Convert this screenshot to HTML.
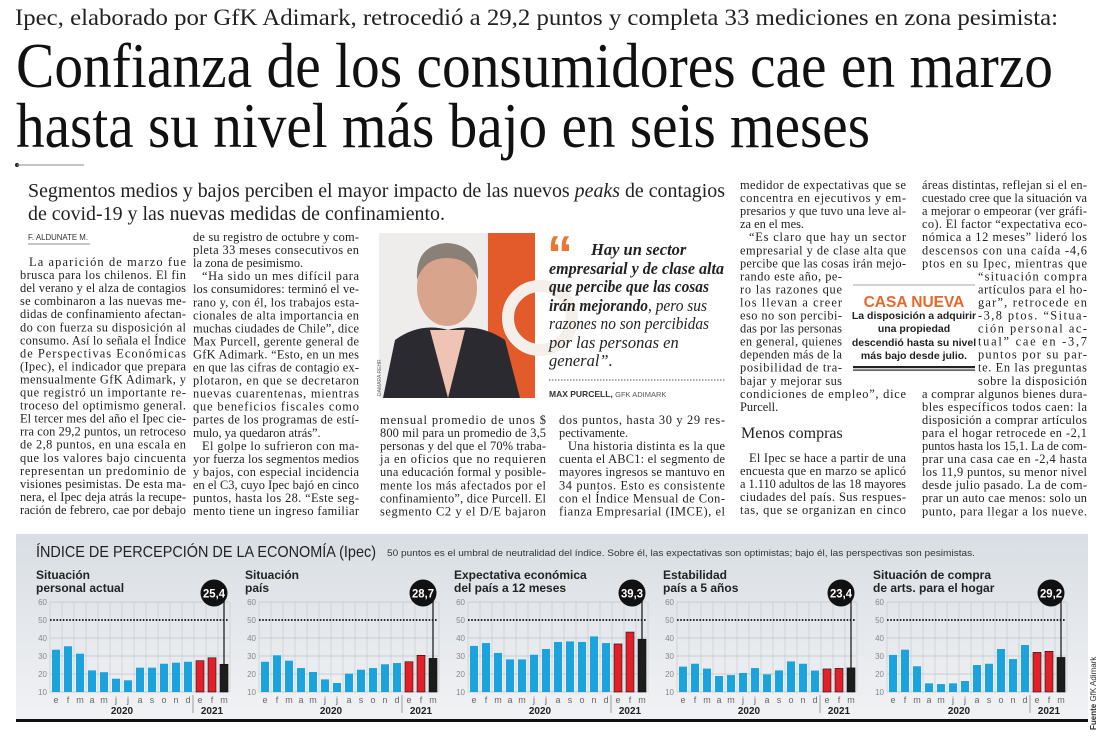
<!DOCTYPE html>
<html><head><meta charset="utf-8">
<style>
html,body{margin:0;padding:0;background:#fff;}
svg{display:block;}
.body{font-family:"Liberation Serif",serif;font-size:12.4px;fill:#222;}
.sans{font-family:"Liberation Sans",sans-serif;}
</style></head>
<body>
<svg id="page" width="1100" height="748" viewBox="0 0 1100 748" xmlns="http://www.w3.org/2000/svg">
  <rect x="0" y="0" width="1100" height="748" fill="#fff"/>
  <text x="15" y="25" font-family="Liberation Serif, serif" font-size="23" fill="#222" textLength="1043" lengthAdjust="spacingAndGlyphs">Ipec, elaborado por GfK Adimark, retrocedió a 29,2 puntos y completa 33 mediciones en zona pesimista:</text>
  <text x="16" y="87" font-family="Liberation Serif, serif" font-size="64" fill="#111" textLength="1037" lengthAdjust="spacingAndGlyphs">Confianza de los consumidores cae en marzo</text>
  <text x="16" y="147" font-family="Liberation Serif, serif" font-size="64" fill="#111" textLength="854" lengthAdjust="spacingAndGlyphs">hasta su nivel más bajo en seis meses</text>
  <circle cx="17" cy="165" r="2" fill="#222"/>
  <line x1="17" y1="165" x2="84" y2="165" stroke="#888" stroke-width="1"/>
  <text x="28" y="197" font-family="Liberation Serif, serif" font-size="19.5" fill="#222" textLength="697" lengthAdjust="spacingAndGlyphs">Segmentos medios y bajos perciben el mayor impacto de las nuevos <tspan font-style="italic">peaks</tspan> de contagios</text>
  <text x="28" y="220" font-family="Liberation Serif, serif" font-size="19.5" fill="#222" textLength="417" lengthAdjust="spacingAndGlyphs">de covid-19 y las nuevas medidas de confinamiento.</text>
  <text x="28" y="240" class="sans" font-size="8" fill="#333" textLength="60" lengthAdjust="spacingAndGlyphs">F. ALDUNATE M.</text>
  <line x1="28" y1="244" x2="90" y2="244" stroke="#666" stroke-width="0.7"/>

  <g id="photo">
    <rect x="379" y="233" width="156" height="165" fill="#efedeb"/>
    <rect x="488" y="233" width="47" height="165" fill="#e35a2b"/>
    <circle cx="540" cy="318" r="32" fill="none" stroke="#f4efe9" stroke-width="12"/>
    <path d="M383 398 L395 340 Q420 322 448 330 Q478 322 505 340 L520 398 Z" fill="#2a2a30"/>
    <path d="M430 330 L448 398 L465 330 Z" fill="#efc4b4"/>
    <ellipse cx="447" cy="288" rx="30" ry="38" fill="#d8a48c"/>
    <path d="M417 280 Q415 245 447 243 Q480 245 478 280 Q470 258 447 258 Q424 258 417 280 Z" fill="#8a8078"/>
    <text x="381" y="396" transform="rotate(-90 381 396)" class="sans" font-size="5" fill="#666">DAMARA REHR</text>
  </g>

  <g>
    <text x="547" y="272" font-family="Liberation Sans, sans-serif" font-weight="bold" font-size="52" fill="#e8772f">“</text>
    <g font-family="Liberation Serif, serif" font-size="16.5" font-style="italic" fill="#222">
      <text x="591" y="255" font-weight="bold">Hay un sector</text>
      <text x="549" y="274" font-weight="bold" textLength="175" lengthAdjust="spacingAndGlyphs">empresarial y de clase alta</text>
      <text x="549" y="292" font-weight="bold" textLength="160" lengthAdjust="spacingAndGlyphs">que percibe que las cosas</text>
      <text x="549" y="311" textLength="158" lengthAdjust="spacingAndGlyphs"><tspan font-weight="bold">irán mejorando</tspan>, pero sus</text>
      <text x="549" y="329" textLength="160" lengthAdjust="spacingAndGlyphs">razones no son percibidas</text>
      <text x="549" y="348">por las personas en</text>
      <text x="549" y="366">general”.</text>
    </g>
    <line x1="549" y1="380" x2="725" y2="380" stroke="#555" stroke-width="1" stroke-dasharray="1.5 1.5"/>
    <text x="549" y="397" class="sans" font-size="8.5" font-weight="bold" fill="#333">MAX PURCELL, <tspan font-weight="normal" font-size="7.5" fill="#555">GFK ADIMARK</tspan></text>
  </g>

  <g>
    <line x1="853" y1="285" x2="975" y2="285" stroke="#888" stroke-width="0.8"/>
    <text x="914" y="307" text-anchor="middle" class="sans" font-weight="bold" font-size="15.5" fill="#e8682a">CASA NUEVA</text>
    <g class="sans" font-weight="bold" font-size="10.5" fill="#222" text-anchor="middle">
      <text x="914" y="319">La disposición a adquirir</text>
      <text x="914" y="332">una propiedad</text>
      <text x="914" y="346">descendió hasta su nivel</text>
      <text x="914" y="359">más bajo desde julio.</text>
    </g>
    <rect x="853" y="366" width="122" height="2.2" fill="#222"/>
    <rect x="853" y="369.5" width="122" height="1.2" fill="#222"/>
  </g>

  <text x="741" y="438" font-family="Liberation Serif, serif" font-size="16" fill="#222">Menos compras</text>

  <g id="cols" class="body"></g>

  <g>
    <defs>
      <linearGradient id="pg" x1="0" y1="0" x2="0" y2="1">
        <stop offset="0" stop-color="#d9dee4"/>
        <stop offset="1" stop-color="#f1f2f4"/>
      </linearGradient>
    </defs>
    <rect x="16" y="534" width="1072" height="186" fill="url(#pg)"/>
    <rect x="16" y="719" width="1072" height="3" fill="#111"/>
    <text x="36" y="557" class="sans" font-size="16" fill="#222" textLength="340" lengthAdjust="spacingAndGlyphs">ÍNDICE DE PERCEPCIÓN DE LA ECONOMÍA (Ipec)</text>
    <text x="387" y="556" class="sans" font-size="9.5" fill="#333" textLength="588" lengthAdjust="spacingAndGlyphs">50 puntos es el umbral de neutralidad del índice. Sobre él, las expectativas son optimistas; bajo él, las perspectivas son pesimistas.</text>
    <text x="1096" y="730" transform="rotate(-90 1096 730)" class="sans" font-size="8" fill="#333"><tspan font-weight="bold">Fuente</tspan> GfK Adimark</text>
    <g id="charts"></g>
  </g>
</svg>
<script>
// ---- chart data ----
const months = ['e','f','m','a','m','j','j','a','s','o','n','d','e','f','m'];
const chartTitles1 = ['Situación','Situación','Expectativa económica','Estabilidad','Situación de compra'];
const chartTitles2 = ['personal actual','país','del país a 12 meses','país a 5 años','de arts. para el hogar'];
const serieSituacionPersonal = [33.5,35.4,31.3,22,21,17.4,16.5,23.5,23.5,25.7,26.3,26.8,27.4,29,25.4];
const serieSituacionPais = [26.8,30.4,27.4,23.3,21.1,17,15,20.2,22.4,23.3,25.4,26.1,26.8,30.4,28.7];
const serieExpectativa = [35.6,37.2,31.7,28.1,28.1,30.7,33.9,37.8,38.1,37.8,40.9,37.2,36.7,43.3,39.3];
const serieEstabilidad = [24.1,25.7,23,18.9,19.4,20.6,23.3,19.8,22,27,25.7,21.9,22.8,23.1,23.4];
const serieCompra = [30.6,33.5,24.3,14.8,14.4,14.8,16.1,25,25.7,33.9,28.3,36.1,32,32.6,29.2];
const latestLabels = ['25,4','28,7','39,3','23,4','29,2'];
const yTicks = [10,20,30,40,50,60];
const threshold = 50;
const yearLabels = ['2020','2021'];

const NS='http://www.w3.org/2000/svg';
function mk(tag, attrs, parent){const e=document.createElementNS(NS,tag);for(const k in attrs)e.setAttribute(k,attrs[k]);parent.appendChild(e);return e;}

const series=[serieSituacionPersonal,serieSituacionPais,serieExpectativa,serieEstabilidad,serieCompra];
const chartsG=document.getElementById('charts');
const chartX=[0,209,418,627,837];
const yMin=10,yMax=60,plotBottom=692,plotTop=602;
function yScale(v){return plotBottom-(v-yMin)/(yMax-yMin)*(plotBottom-plotTop);}
series.forEach((data,ci)=>{
  const ox=chartX[ci];
  const g=mk('g',{},chartsG);
  
  
  const left=50+ox, right=229+ox, pitch=12;
  function xScale(i){return left+6+i*pitch;}
  const t1=mk('text',{x:36+ox,y:579,'class':'sans','font-size':12,'font-weight':'bold',fill:'#222'},g);
  t1.textContent=chartTitles1[ci];
  
  
  const t2=mk('text',{x:36+ox,y:592,'class':'sans','font-size':12,'font-weight':'bold',fill:'#222'},g);
  t2.textContent=chartTitles2[ci];
  
  
  for(let i=0;i<=data.length;i++){
    const x=left+i*pitch;
    const vl=mk('line',{x1:x,y1:plotTop,x2:x,y2:plotBottom,stroke:'#c8ccd1','stroke-width':0.7},g);
    
    
  }
  yTicks.forEach(v=>{
    const y=yScale(v);
    if(v!==threshold){
      const hl=mk('line',{x1:left,y1:y,x2:right,y2:y,stroke:'#bfc3c8','stroke-width':0.8},g);
      
      
    }
    const tl=mk('text',{x:left-3,y:y+3,'text-anchor':'end','class':'sans','font-size':8,fill:'#888'},g);
    tl.textContent=String(v);
    
    
  });
  const th=mk('line',{x1:left,y1:yScale(threshold),x2:right,y2:yScale(threshold),stroke:'#111','stroke-width':1.8,'stroke-dasharray':'1.6 1.6'},g);
  
  
  data.forEach((v,i)=>{
    const fill=i<12?'#1aa3dc':(i<14?'#e3202a':'#1c1c1c');
    const y=yScale(v);
    const b=mk('rect',{x:xScale(i)-4,y:y,width:8,height:plotBottom-y,fill:fill},g);
    if(i>=12){b.setAttribute('stroke','#111');b.setAttribute('stroke-width','0.6');}
    
    
    const ml=mk('text',{x:xScale(i),y:703,'text-anchor':'middle','class':'sans','font-size':9,fill:'#666'},g);
    ml.textContent=months[i];
    
    
  });
  const sep=mk('line',{x1:left+12*pitch-1,y1:695,x2:left+12*pitch-1,y2:713,stroke:'#888','stroke-width':0.8},g);
  
  
  const y20=mk('text',{x:(xScale(0)+xScale(11))/2,y:714,'text-anchor':'middle','class':'sans','font-size':10,'font-weight':'bold',fill:'#222'},g);
  y20.textContent=yearLabels[0];
  
  
  const y21=mk('text',{x:xScale(13),y:714,'text-anchor':'middle','class':'sans','font-size':10,'font-weight':'bold',fill:'#222'},g);
  y21.textContent=yearLabels[1];
  
  
  const last=data.length-1, lx=xScale(last);
  const cl=mk('line',{x1:lx,y1:596,x2:lx,y2:yScale(data[last]),stroke:'#111','stroke-width':1.2},g);
  
  
  const bub=mk('circle',{cx:lx-10,cy:593,r:13.5,fill:'#111'},g);
  
  
  const bt=mk('text',{x:lx-10,y:597.5,'text-anchor':'middle','class':'sans','font-size':12,'font-weight':'bold',fill:'#fff',textLength:22,lengthAdjust:'spacingAndGlyphs'},g);
  bt.textContent=latestLabels[ci];
  
  
});

const col1=['>La aparición de marzo fue','brusca para los chilenos. El fin','del verano y el alza de contagios','se combinaron a las nuevas me-','didas de confinamiento afectan-','do con fuerza su disposición al','consumo. Así lo señala el Índice','de Perspectivas Económicas','(Ipec), el indicador que prepara','mensualmente GfK Adimark, y','que registró un importante re-','troceso del optimismo general.','El tercer mes del año el Ipec cie-','rra con 29,2 puntos, un retroceso','de 2,8 puntos, en una escala en','que los valores bajo cincuenta','representan un predominio de','visiones pesimistas. De esta ma-','nera, el Ipec deja atrás la recupe-','ración de febrero, cae por debajo'];
const col2=['de su registro de octubre y com-','pleta 33 meses consecutivos en','|la zona de pesimismo.','>“Ha sido un mes difícil para','los consumidores: terminó el ve-','rano y, con él, los trabajos esta-','cionales de alta importancia en','muchas ciudades de Chile”, dice','Max Purcell, gerente general de','GfK Adimark. “Esto, en un mes','en que las cifras de contagio ex-','plotaron, en que se decretaron','nuevas cuarentenas, mientras','que beneficios fiscales como','partes de los programas de estí-','|mulo, ya quedaron atrás”.','>El golpe lo sufrieron con ma-','yor fuerza los segmentos medios','y bajos, con especial incidencia','en el C3, cuyo Ipec bajó en cinco','puntos, hasta los 28. “Este seg-','mento tiene un ingreso familiar'];
const col3=['mensual promedio de unos $','800 mil para un promedio de 3,5','personas y del que el 70% traba-','ja en oficios que no requieren','una educación formal y posible-','mente los más afectados por el','confinamiento”, dice Purcell. El','segmento C2 y el D/E bajaron'];
const col4=['dos puntos, hasta 30 y 29 res-','|pectivamente.','>Una historia distinta es la que','cuenta el ABC1: el segmento de','mayores ingresos se mantuvo en','34 puntos. Esto es consistente','con el Índice Mensual de Con-','fianza Empresarial (IMCE), el'];
const col5a=['medidor de expectativas que se','concentra en ejecutivos y em-','presarios y que tuvo una leve al-','|za en el mes.','>“Es claro que hay un sector','empresarial y de clase alta que','percibe que las cosas irán mejo-'];
const col5b=['rando este año, pe-','ro las razones que','los llevan a creer','eso no son percibi-','das por las personas','en general, quienes','dependen más de la','posibilidad de tra-','bajar y mejorar sus'];
const col5c=['condiciones de empleo”, dice','|Purcell.'];
const col5d=['>El Ipec se hace a partir de una','encuesta que en marzo se aplicó','a 1.110 adultos de las 18 mayores','ciudades del país. Sus respues-','tas, que se organizan en cinco'];
const col6a=['áreas distintas, reflejan si el en-','cuestado cree que la situación va','a mejorar o empeorar (ver gráfi-','co). El factor “expectativa eco-','nómica a 12 meses” lideró los','descensos con una caída -4,6','ptos en su Ipec, mientras que'];
const col6b=['“situación compra','artículos para el ho-','gar”, retrocede en','-3,8 ptos. “Situa-','ción personal ac-','tual” cae en -3,7','puntos por su par-','te. En las preguntas','sobre la disposición'];
const col6c=['a comprar algunos bienes dura-','bles específicos todos caen: la','disposición a comprar artículos','para el hogar retrocede en -2,1','puntos hasta los 15,1. La de com-','prar una casa cae en -2,4 hasta','los 11,9 puntos, su menor nivel','desde julio pasado. La de com-','prar un auto cae menos: solo un','punto, para llegar a los nueve.'];

const colsG=document.getElementById('cols');
const P=13.05;
function column(lines,x,w,y0,name){
  lines.forEach((s,i)=>{
    let last=false,ind=0;
    if(s[0]==='|'){last=true;s=s.slice(1);}
    if(s[0]==='>'){ind=9;s=s.slice(1);}
    const a={x:x+ind,y:(y0+i*P).toFixed(1)};
    if(!last){a.textLength=w-ind;a.lengthAdjust='spacing';}
    const t=mk('text',a,colsG);
    t.textContent=s;
    
    
  });
}
column(col1,20,166,266,'column-1');
column(col2,193,166,241,'column-2');
column(col3,380,166,424,'column-3');
column(col4,559,166,424,'column-4');
column(col5a,740,166,189,'column-5');
column(col5b,740,102,189+7*P,'column-5');
column(col5c,740,166,189+16*P,'column-5');
column(col5d,740,166,462,'column-5');
column(col6a,922,165,189,'column-6');
column(col6b,978,109,189+7*P,'column-6');
column(col6c,922,165,189+16*P,'column-6');
</script>
</body></html>
